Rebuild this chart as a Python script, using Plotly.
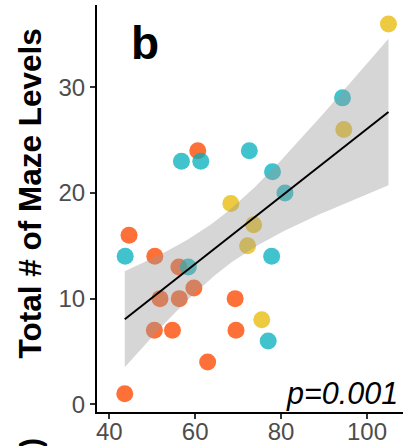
import numpy as np
import plotly.graph_objects as go

# ---- data ----
red_x = [60.6, 44.6, 50.6, 56.2, 59.7, 51.8, 56.3, 50.5, 54.7, 62.9, 43.6, 69.3, 69.5]
red_y = [24, 16, 14, 13, 11, 10, 10, 7, 7, 4, 1, 10, 7]
teal_x = [56.8, 61.3, 72.6, 78.0, 80.9, 77.8, 77.0, 43.7, 58.4, 94.3]
teal_y = [23, 23, 24, 22, 20, 14, 6, 14, 13, 29]
yellow_x = [105.0, 94.6, 68.3, 73.6, 72.2, 75.5]
yellow_y = [36, 26, 19, 17, 15, 8]
x_ticks = [40, 60, 80, 100]
y_ticks = [0, 10, 20, 30]
p_label = "p=0.001"
y_title = "Total # of Maze Levels"
panel_label = "b"

# ---- linear fit with 95% CI ----
xa = np.array(red_x + teal_x + yellow_x, dtype=float)
ya = np.array(red_y + teal_y + yellow_y, dtype=float)
n = len(xa)
b1, b0 = np.polyfit(xa, ya, 1)
resid = ya - (b0 + b1 * xa)
s = np.sqrt(np.sum(resid ** 2) / (n - 2))
xm = xa.mean()
sxx = np.sum((xa - xm) ** 2)
tval = 2.052  # t(0.975, df=27)
xs = np.linspace(xa.min(), xa.max(), 80)
yh = b0 + b1 * xs
se = s * np.sqrt(1.0 / n + (xs - xm) ** 2 / sxx)
lo = yh - tval * se
hi = yh + tval * se

fig = go.Figure()
msize = 17
for xx, yy, col in [(red_x, red_y, "rgba(252,78,7,0.8)"),
                    (teal_x, teal_y, "rgba(0,175,187,0.75)"),
                    (yellow_x, yellow_y, "rgba(231,184,0,0.75)")]:
    fig.add_trace(go.Scatter(x=xx, y=yy, mode="markers",
                             marker=dict(size=msize, color=col, line=dict(width=0)),
                             showlegend=False, hoverinfo="skip"))

fig.add_trace(go.Scatter(x=np.concatenate([xs, xs[::-1]]),
                         y=np.concatenate([hi, lo[::-1]]),
                         fill="toself", fillcolor="rgba(153,153,153,0.4)",
                         line=dict(width=0), mode="lines",
                         showlegend=False, hoverinfo="skip"))
fig.add_trace(go.Scatter(x=xs, y=yh, mode="lines",
                         line=dict(color="black", width=2),
                         showlegend=False, hoverinfo="skip"))

font_family = "Liberation Sans, Arial, sans-serif"
axis_common = dict(showgrid=False, zeroline=False, showline=True, linecolor="black", linewidth=2,
                   ticks="outside", ticklen=5, tickwidth=2, tickcolor="#333333", automargin=False,
                   tickfont=dict(size=24, color="#4D4D4D", family=font_family))
fig.update_layout(
    width=405, height=446,
    margin=dict(l=97, r=2, t=5, b=34, autoexpand=False),
    paper_bgcolor="white", plot_bgcolor="white",
    font=dict(family=font_family),
    xaxis=dict(range=[37.14, 108.38], tickvals=x_ticks, ticktext=[str(v) for v in x_ticks],
               ticklabelstandoff=-8, **axis_common),
    yaxis=dict(range=[-0.73, 37.79], tickvals=y_ticks, ticktext=[str(v) for v in y_ticks],
               **axis_common),
    annotations=[
        dict(text="<b>" + y_title + "</b>", xref="paper", yref="paper",
             x=-0.219, y=0.537, xanchor="center", yanchor="middle", textangle=-90,
             showarrow=False, font=dict(size=31.5, color="black", family=font_family)),
        dict(text="<b>" + panel_label + "</b>", xref="paper", yref="paper",
             x=0.157, y=0.907, xanchor="center", yanchor="middle",
             showarrow=False, font=dict(size=46, color="black", family=font_family)),
        dict(text="<i>" + p_label + "</i>", xref="paper", yref="paper",
             x=0.99, y=-0.003, xanchor="right", yanchor="bottom",
             showarrow=False, font=dict(size=30.5, color="black", family=font_family)),
        dict(text="<b>)</b>", xref="paper", yref="paper",
             x=(30 - 97) / 306, y=(412 - 436) / 407, xanchor="center", yanchor="top",
             textangle=-90, showarrow=False,
             font=dict(size=30, color="black", family=font_family)),
    ],
)
fig.write_html("out.html")
